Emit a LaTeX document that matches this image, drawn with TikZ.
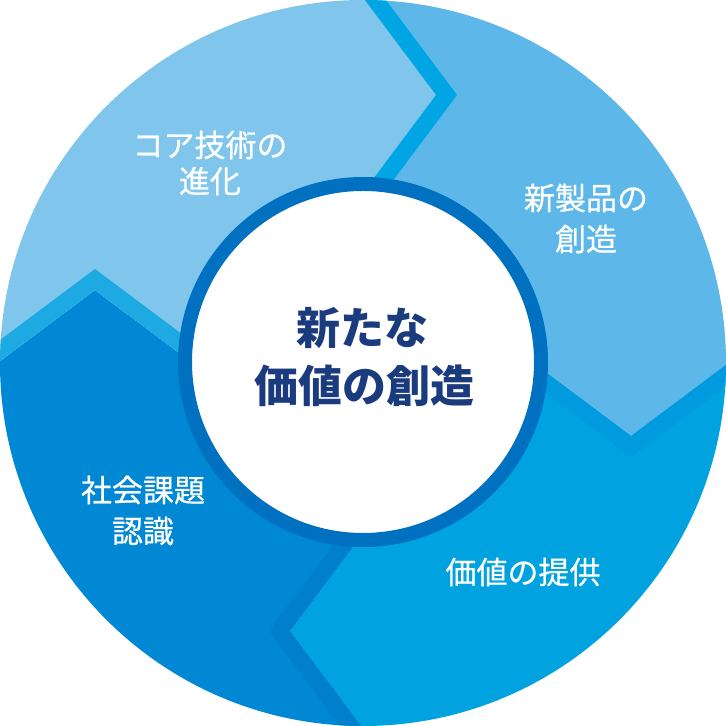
\documentclass[tikz,border=0pt]{standalone}
\usepackage{fontspec}
\newfontfamily\cjk{Noto Sans CJK JP}
\newfontfamily\cjkm[FakeBold=0.6]{Noto Sans CJK JP}
\definecolor{regTL}{HTML}{80C6EC}
\definecolor{regTR}{HTML}{5DB8E9}
\definecolor{regBR}{HTML}{00A3E0}
\definecolor{regBL}{HTML}{0088D5}
\definecolor{bandT}{HTML}{00A6E3}
\definecolor{bandR}{HTML}{009BDF}
\definecolor{bandB}{HTML}{0080CC}
\definecolor{bandL}{HTML}{1DAAE2}
\definecolor{ringc}{HTML}{0070C0}
\definecolor{navy}{HTML}{1B3B7F}
\tikzset{
  label/.style={font=\cjkm\fontsize{15.5}{19}\selectfont, text=white, inner sep=0pt},
  centertext/.style={font=\cjk\bfseries\fontsize{22}{26}\selectfont, text=navy, inner sep=0pt},
  region/.pic={\fill[#1] (-28,403) -- (73,268) -- (-28,133) -- (0,0) -- (133,28) -- (268,-73) -- (403,28) -- (440,440) -- cycle;},
  band/.pic={\fill[#1] (-28,403) -- (73,268) -- (-28,133) -- (-7,133) -- (94,268) -- (-7,403) -- cycle;}
}
\begin{document}
\begin{tikzpicture}[x=0.5pt,y=0.5pt]
\useasboundingbox (-363,-363) rectangle (363,363);
\begin{scope}
  \clip (0,0) circle (363);
  \pic[rotate=0] {region=regTR};
  \pic[rotate=-90] {region=regBR};
  \pic[rotate=-180] {region=regBL};
  \pic[rotate=-270] {region=regTL};
  \pic[rotate=0] {band=bandT};
  \pic[rotate=-90] {band=bandR};
  \pic[rotate=-180] {band=bandB};
  \pic[rotate=-270] {band=bandL};
\end{scope}
\draw[ringc, line width=7pt, fill=white] (0,1) circle (178);
\node[centertext] (c1) at (-1,35) {新たな};
\node[centertext] (c2) at (1,-23) {価値の創造};
\node[label] (a1) at (-153,218) {コア技術の};
\node[label] (a2) at (-153,182) {進化};
\node[label] (b1) at (223,165) {新製品の};
\node[label] (b2) at (223,124) {創造};
\node[label] (d1) at (-220,-127) {社会課題};
\node[label] (d2) at (-220,-168) {認識};
\node[label] (e1) at (160,-209) {価値の提供};
\end{tikzpicture}
\end{document}
